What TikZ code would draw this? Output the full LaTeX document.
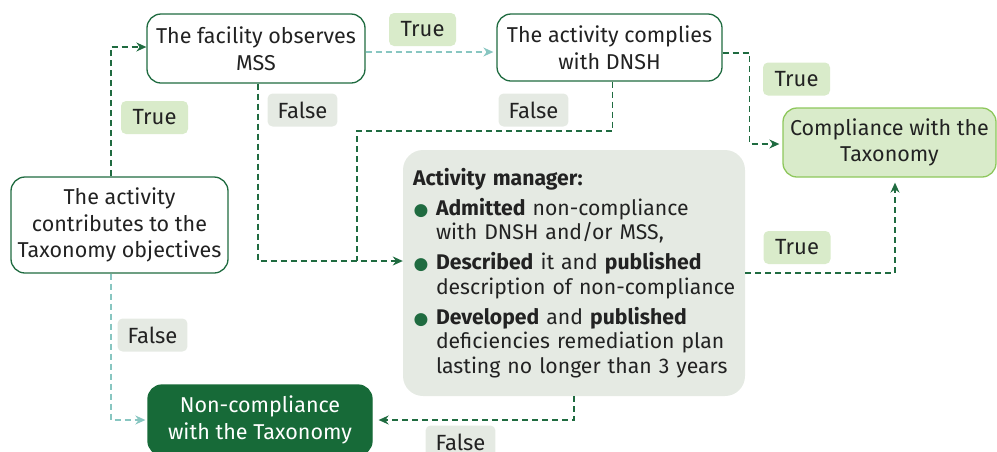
\documentclass[tikz,border=0pt]{standalone}
\usepackage{fontspec}
\setmainfont{Fira Sans}
\newfontfamily\symfont{DejaVu Sans}
\usetikzlibrary{arrows.meta,calc}
\definecolor{dg}{HTML}{1F6B40}
\definecolor{dgfill}{HTML}{176A38}
\definecolor{lg}{HTML}{D9EBCA}
\definecolor{lgb}{HTML}{8EC75C}
\definecolor{gg}{HTML}{E5EAE3}
\definecolor{tealc}{HTML}{88C6C1}
\definecolor{txt}{HTML}{222222}
\newcommand\gbul{\makebox[23pt][l]{\hspace{0.5pt}\textcolor{dg}{\symfont\fontsize{17}{17}\selectfont ●}}}
\newcommand\ind{\hspace*{23pt}}
\tikzset{
  box/.style={draw=dg, line width=1.3pt, rounded corners=14pt, fill=white, align=center,
    text=txt, inner sep=0pt, font=\fontsize{21.5}{26.5}\selectfont},
  lbl/.style={rounded corners=5pt, minimum height=33pt, minimum width=67pt, inner xsep=10pt,
    font=\fontsize{22}{24}\selectfont, text=txt},
  tl/.style={lbl, fill=lg},
  fl/.style={lbl, fill=gg},
  conn/.style={draw=dg, line width=1.3pt, dash pattern=on 6pt off 4pt,
    -{Stealth[length=10pt,width=9pt]}},
  tconn/.style={conn, draw=tealc},
}
\begin{document}
\begin{tikzpicture}[x=1pt,y=-1pt]
\useasboundingbox (0,0) rectangle (997,451);
% boxes
\node[box, minimum width=217pt, minimum height=96pt] (A) at (119.5,225) {The activity\\contributes to the\\Taxonomy objectives};
\node[box, minimum width=218pt, minimum height=69pt] (B) at (256,48.5) {The facility observes\\MSS};
\node[box, minimum width=225pt, minimum height=67pt] (C) at (609.5,47.5) {The activity complies\\with DNSH};
\node[box, draw=lgb, fill=lg, minimum width=213pt, minimum height=69pt] (D) at (889.5,142.5) {Compliance with the\\Taxonomy};
\node[box, draw=dgfill, fill=dgfill, text=white, minimum width=224pt, minimum height=70pt] (F) at (260,420) {Non-compliance\\with the Taxonomy};
\node[fill=gg, rounded corners=20pt, minimum height=246pt, text width=322pt, inner xsep=10pt,
  align=left, font=\fontsize{21.2}{24.5}\selectfont, text=txt] (E) at (574,273)
  {\textbf{Activity manager:}\\[5.5pt]
   \gbul\textbf{Admitted} non-compliance\\
   \ind with DNSH and/or MSS,\\[5.5pt]
   \gbul\textbf{Described} it and \textbf{published}\\
   \ind\mbox{description of non-compliance}\\[5.5pt]
   \gbul\textbf{Developed} and \textbf{published}\\
   \ind\mbox{deficiencies remediation plan}\\
   \ind\mbox{lasting no longer than 3 years}};
% junction coordinates
\coordinate (K) at (357,131);
\coordinate (J) at (357,261);
% connectors
\draw[conn] ([xshift=-8.5pt]A.north) |- ([yshift=1.5pt]B.west);
\draw[tconn, shorten >=3pt] ([yshift=-3.5pt]B.east) -- ([yshift=-3.5pt]B.east -| C.west);
\draw[conn, shorten >=3pt] ([yshift=-5.5pt]C.east) -- ++(27,0) |- ([yshift=-1.5pt]D.west);
\draw[conn] ([xshift=2pt]B.south) |- ([yshift=12pt]E.west);
\draw[conn, -] ([xshift=3pt]C.south) |- (K) -- (J);
\draw[conn, shorten >=5pt] (E.east) -| ([xshift=5.5pt]D.south);
\draw[conn, shorten >=6pt] (E.south) |- (F.east);
\draw[tconn, shorten >=2pt] ([xshift=-8.5pt]A.south) |- (F.west);
% labels
\node[tl] (t1) at (422.5,29.5) {True};
\node[tl] (t2) at (154.5,117.5) {True};
\node[fl] (f1) at (302.5,110) {False};
\node[fl] (f2) at (533.5,110) {False};
\node[tl] (t3) at (796.5,79) {True};
\node[tl] (t4) at (797,247.5) {True};
\node[fl] (f3) at (152.5,335) {False};
\node[fl] (f4) at (460.5,442) {False};
\end{tikzpicture}
\end{document}
